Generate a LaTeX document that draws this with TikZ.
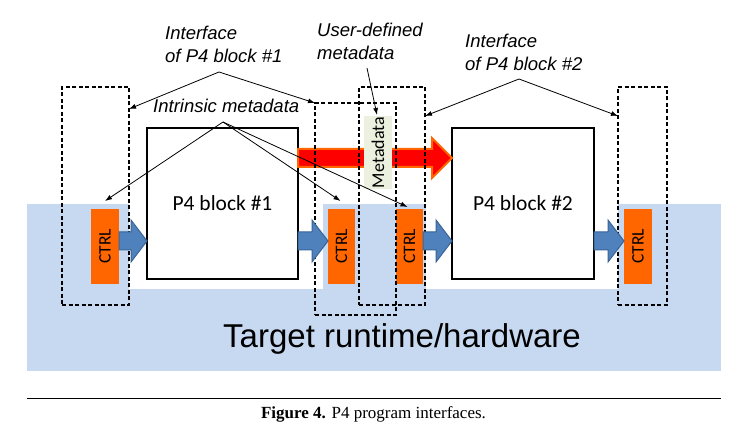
\documentclass[tikz,border=0pt]{standalone}
\usepackage{fontspec}
\setmainfont{Liberation Serif}
\setsansfont{Liberation Sans}
\newfontfamily\calib{Carlito}
\usepackage{tikz}
\usetikzlibrary{calc,positioning,arrows,arrows.meta,fit,shapes}

\definecolor{hwblue}{HTML}{C6D9F1}
\definecolor{ctrlorange}{HTML}{FF6600}
\definecolor{metagreen}{HTML}{EBF1DE}
\definecolor{flowblue}{HTML}{4F81BD}
\definecolor{flowedge}{HTML}{3A6496}

\tikzset{
  p4block/.style={draw, line width=2pt, fill=white, inner sep=0, outer sep=0,
    anchor=north west, minimum height=151pt, font=\calib\fontsize{21.5}{24}\selectfont},
  ctrlbox/.style={fill=ctrlorange, inner sep=0, outer sep=0, anchor=north west,
    minimum width=27pt, minimum height=75pt, font=\calib\fontsize{17.5}{20}\selectfont},
  ifcbox/.style={draw, line width=1.2pt, dash pattern=on 4pt off 2.5pt, inner sep=0,
    outer sep=0, anchor=north west, minimum height=218pt},
  lbl/.style={inner sep=0, align=left, font=\sffamily\itshape\fontsize{18.5}{23}\selectfont},
  lblarrow/.style={-{Latex[length=7pt,width=5pt]}, line width=0.8pt},
  flowarrow/.style={fill=flowblue, draw=flowedge, line width=1pt}
}

\begin{document}
\begin{tikzpicture}[x=1pt,y=-1pt]
        \useasboundingbox (0,0) rectangle (747,427);

        %%target background
        \fill[hwblue] (27,204) rectangle (721,371);
        \fill[white] (129,204) rectangle (323,289);
        \fill[white] (426,204) rectangle (618,289);
        \node[anchor=base west, inner sep=0, font=\sffamily\fontsize{33}{37}\selectfont]
            (hw) at (223,348) {Target runtime/hardware};

        %%blocks
        \node[p4block, minimum width=151pt] (blk1) at (147,128) {P4 block \#1};
        \node[p4block, minimum width=142pt] (blk2) at (452,128) {P4 block \#2};

        %%metadata flow
        \coordinate (redrow) at (0,158);
        \fill[red, draw=ctrlorange, line width=2pt]
            let \p1=(blk1.east |- redrow), \p2=(blk2.west |- redrow) in
            (\x1,\y1+9pt) -- (\x2-20pt,\y1+9pt) -- (\x2-20pt,\y1+20pt) -- (\x2,\y1)
            -- (\x2-20pt,\y1-20pt) -- (\x2-20pt,\y1-9pt) -- (\x1,\y1-9pt) -- cycle;
        \node[fill=metagreen, inner sep=0, outer sep=0, anchor=north west, minimum width=28pt,
            minimum height=73pt, font=\calib\fontsize{18}{20}\selectfont]
            (meta) at (364,116) {\rotatebox{90}{Metadata}};

        %%ctrl
        \node[ctrlbox, minimum width=28pt] (ctrlA) at (91,209) {\rotatebox{90}{CTRL}};
        \node[ctrlbox] (ctrlB) at (328,209) {\rotatebox{90}{CTRL}};
        \node[ctrlbox] (ctrlC) at (396,209) {\rotatebox{90}{CTRL}};
        \node[ctrlbox, minimum width=28pt] (ctrlD) at (624,209) {\rotatebox{90}{CTRL}};

        %%interfaces
        \node[ifcbox, minimum width=67pt] (ifcA) at (62,87) {};
        \node[ifcbox, minimum width=81pt, minimum height=212pt] (ifcB) at (315,103) {};
        \node[ifcbox, minimum width=66pt] (ifcC) at (359,87) {};
        \node[ifcbox, minimum width=49pt] (ifcD) at (618,87) {};

        %%flow arrows
        \coordinate (bluerow) at (0,241);
        \foreach \a/\b in {ctrlA/blk1, blk1/ctrlB, ctrlC/blk2, blk2/ctrlD}{
            \draw[flowarrow] let \p1=(\a.east |- bluerow), \p2=(\b.west |- bluerow) in
                (\x1,\y1+9pt) -- (\x2-16pt,\y1+9pt) -- (\x2-16pt,\y1+21pt) -- (\x2,\y1)
                -- (\x2-16pt,\y1-21pt) -- (\x2-16pt,\y1-9pt) -- (\x1,\y1-9pt) -- cycle;
        }

        %%labels
        \node[lbl, anchor=north west] (lblIfcA) at (165,26) {Interface\\of P4 block \#1};
        \node[lbl, anchor=north west] (lblUser) at (317,23) {User-defined\\metadata};
        \node[lbl, anchor=north west] (lblIfcB) at (465,34) {Interface\\of P4 block \#2};
        \node[lbl, anchor=base west] (lblIntr) at (153,113) {Intrinsic metadata};

        \coordinate (tipIfcA) at (219,72);
        \coordinate (tipIfcB) at (519,79);
        \coordinate (tipUser) at (367,68);
        \coordinate (tipIntr) at (223,122);

        \draw[lblarrow] (tipIfcA) -- ([yshift=-22pt]ifcA.north east);
        \draw[lblarrow] (tipIfcA) -- (ifcB.north west);
        \draw[lblarrow] (tipIfcB) -- ([yshift=-29pt]ifcC.north east);
        \draw[lblarrow] (tipIfcB) -- ([yshift=-29pt]ifcD.north west);
        \draw[lblarrow] (tipUser) -- ([xshift=-1pt,yshift=1pt]meta.north);
        \draw[lblarrow] (tipIntr) -- ([yshift=8pt]ctrlA.north);
        \draw[lblarrow] (tipIntr) -- ([xshift=-1pt,yshift=8pt]ctrlB.north);
        \draw[lblarrow] (tipIntr) -- ([xshift=-2pt,yshift=2pt]ctrlC.north);

        %%caption
        \draw[line width=1pt] (27,399) -- (721,399);
        \node[anchor=base, inner sep=0, font=\fontsize{17}{20}\selectfont] (cap) at (373.5,419)
            {\textbf{Figure 4.} P4 program interfaces.};
\end{tikzpicture}
\end{document}
